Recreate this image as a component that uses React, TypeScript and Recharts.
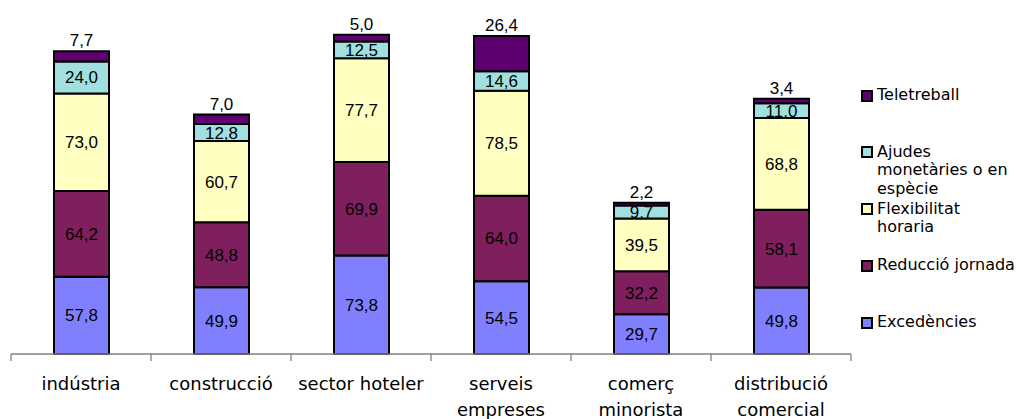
import React from "react";
import { BarChart, Bar, XAxis, YAxis, LabelList } from "recharts";

// categories (line breaks where the axis label wraps)
const categories = [
  "indústria",
  "construcció",
  "sector hoteler",
  "serveis\nempreses",
  "comerç\nminorista",
  "distribució\ncomercial",
];

const excedencies = [57.8, 49.9, 73.8, 54.5, 29.7, 49.8];
const reduccio = [64.2, 48.8, 69.9, 64.0, 32.2, 58.1];
const flexibilitat = [73.0, 60.7, 77.7, 78.5, 39.5, 68.8];
const ajudes = [24.0, 12.8, 12.5, 14.6, 9.7, 11.0];
const teletreball = [7.7, 7.0, 5.0, 26.4, 2.2, 3.4];

const seriesKeys = ["excedencies", "reduccio", "flexibilitat", "ajudes", "teletreball"];
const seriesNames = [
  "Excedències",
  "Reducció jornada",
  "Flexibilitat\nhoraria",
  "Ajudes\nmonetàries o en\nespècie",
  "Teletreball",
];
const seriesColors = ["#8080FF", "#801F5E", "#FFFFC2", "#A2E0E0", "#5F0070"];

const data = categories.map((c, i) => ({
  category: c,
  excedencies: excedencies[i],
  reduccio: reduccio[i],
  flexibilitat: flexibilitat[i],
  ajudes: ajudes[i],
  teletreball: teletreball[i],
}));

const fmt = (v: any) => Number(v).toFixed(1).replace(".", ",");

const axisColor = "#808080";

const CategoryTick = (props: any) => {
  const { x, y, payload, index, visibleTicksCount, width } = props;
  const half =
    payload && typeof payload.offset === "number" && payload.offset > 0
      ? payload.offset
      : width / visibleTicksCount / 2;
  const lines = String(payload.value).split("\n");
  return (
    <g>
      <line x1={x - half} y1={y} x2={x - half} y2={y + 7} stroke={axisColor} strokeWidth={1.3} />
      {index === visibleTicksCount - 1 && (
        <line x1={x + half} y1={y} x2={x + half} y2={y + 7} stroke={axisColor} strokeWidth={1.3} />
      )}
      <text
        x={x}
        y={y + 36}
        textAnchor="middle"
        fill="#000"
        style={{ fontFamily: "'DejaVu Sans', Verdana, sans-serif", fontSize: 18 }}
      >
        {lines.map((l, i) => (
          <tspan key={i} x={x} dy={i === 0 ? 0 : 26}>
            {l}
          </tspan>
        ))}
      </text>
    </g>
  );
};

const LegendBox = () => {
  const order = [...seriesKeys.keys()].reverse();
  return (
    <div
      style={{
        position: "absolute",
        left: 858,
        top: 86,
        width: 158,
        fontFamily: "'DejaVu Sans', Verdana, sans-serif",
        fontSize: 16,
        lineHeight: "18.5px",
        color: "#000",
      }}
    >
      {order.map((s, i) => (
        <div key={seriesKeys[s]} style={{ position: "absolute", top: i * 56.75, left: 0, width: 158 }}>
          <div
            style={{
              position: "absolute",
              left: 3,
              top: 3.5,
              width: 8,
              height: 8,
              border: "2px solid #000",
              background: seriesColors[s],
            }}
          />
          <div style={{ position: "absolute", left: 19, top: 0, whiteSpace: "pre", }}>
            {seriesNames[s]}
          </div>
        </div>
      ))}
    </div>
  );
};

export default function App() {
  return (
    <div style={{ position: "absolute", left: 0, top: 0, width: 1016, height: 419, background: "#fff" }}>
      <BarChart
        width={1016}
        height={419}
        data={data}
        margin={{ top: 20, right: 165, left: 11, bottom: 0 }}
      >
        <XAxis
          dataKey="category"
          axisLine={{ stroke: axisColor, strokeWidth: 1.3 }}
          tickLine={false}
          tickSize={0}
          tickMargin={0}
          height={65}
          interval={0}
          tick={<CategoryTick />}
        />
        <YAxis hide domain={[0, 250]} />
        {seriesKeys.map((k, i) => (
          <Bar
            key={k}
            dataKey={k}
            name={seriesNames[i].replace(/\n/g, " ")}
            stackId="a"
            fill={seriesColors[i]}
            stroke="#000"
            strokeWidth={2}
            barSize={55}
            isAnimationActive={false}
          >
            <LabelList
              dataKey={k}
              position={k === "teletreball" ? "top" : "center"}
              offset={5}
              formatter={fmt}
              fill="#000"
              style={{ fontFamily: "'Liberation Sans', Arial, sans-serif", fontSize: 17 }}
            />
          </Bar>
        ))}
      </BarChart>
      <LegendBox />
    </div>
  );
}
